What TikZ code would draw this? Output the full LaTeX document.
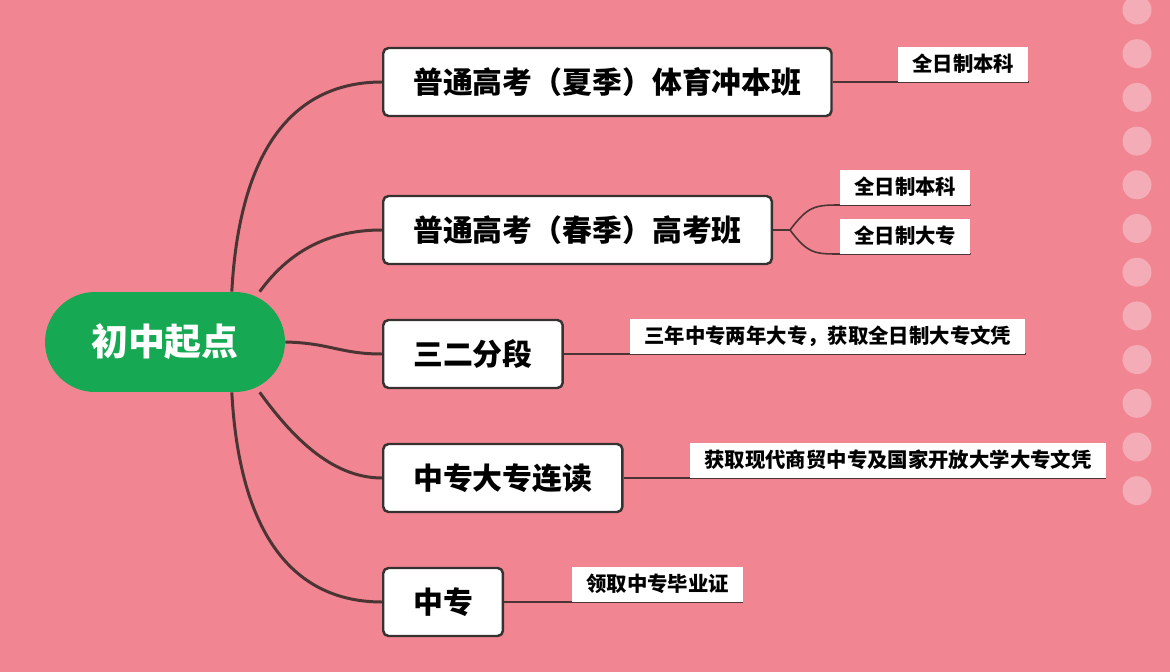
\documentclass[tikz,border=0pt]{standalone}
\usepackage{fontspec}
\setmainfont{Noto Sans CJK SC}
\usetikzlibrary{backgrounds}

\definecolor{bgpink}{RGB}{241,133,145}
\definecolor{dotpink}{RGB}{244,172,182}
\definecolor{rootgreen}{RGB}{22,168,82}
\definecolor{linebrown}{RGB}{75,52,52}
\definecolor{boxedge}{RGB}{55,50,50}

\tikzset{
  rootbox/.style={fill=rootgreen, text=white, rounded corners=1cm, minimum width=4.8cm, minimum height=2cm, font=\fontsize{21}{24}\selectfont\bfseries},
  mainbox/.style={draw=boxedge, line width=1.4pt, fill=white, rounded corners=3pt, anchor=west, minimum height=1.36cm, inner xsep=0.6cm, font=\fontsize{17}{20}\selectfont\bfseries},
  leafbox/.style={fill=white, anchor=south west, minimum height=0.7cm, inner xsep=0.28cm, font=\fontsize{11.6}{13}\selectfont\bfseries},
  branch/.style={draw=linebrown, line width=1.7pt},
  underline/.style={draw=linebrown, line width=0.9pt}
}

\begin{document}
\begin{tikzpicture}[line cap=round,line join=round,x=0.02cm,y=-0.02cm]
  \useasboundingbox (0,0) rectangle (1170,672);
  \begin{pgfonlayer}{background}
    \fill[bgpink] (0,0) rectangle (1170,672);
    \foreach \i in {0,...,11}
      \fill[dotpink] (1137,{10+43.7*\i}) circle (0.29cm);
  \end{pgfonlayer}
  % root and main boxes
  \node[rootbox] (root) at (165,342) {初中起点};
  \node[mainbox] (m1) at (382,82) {普通高考（夏季）体育冲本班};
  \node[mainbox] (m2) at (382,230) {普通高考（春季）高考班};
  \node[mainbox] (m3) at (382,354) {三二分段};
  \node[mainbox] (m4) at (382,478) {中专大专连读};
  \node[mainbox] (m5) at (382,602) {中专};
  % leaves
  \node[leafbox] (l1) at (898,82) {全日制本科};
  \node[leafbox] (l2a) at (840,205) {全日制本科};
  \node[leafbox] (l2b) at (840,254) {全日制大专};
  \node[leafbox] (l3) at (630,354) {三年中专两年大专，获取全日制大专文凭};
  \node[leafbox] (l4) at (690,478) {获取现代商贸中专及国家开放大学大专文凭};
  \node[leafbox] (l5) at (572,602) {领取中专毕业证};
  \coordinate (j2) at (790,230);
  \begin{pgfonlayer}{background}
    \draw[branch] (root.37) .. controls (240,140) and (300,82) .. (m1.west);
    \draw[branch] (root.28) .. controls (290,250) and (330,230) .. (m2.west);
    \draw[branch] (root.east) .. controls (330,343) and (340,354) .. (m3.west);
    \draw[branch] (root.-28) .. controls (290,434) and (330,478) .. (m4.west);
    \draw[branch] (root.-37) .. controls (240,544) and (300,602) .. (m5.west);
    \draw[underline] (m1.east) -- (l1.south east);
    \draw[underline] (m2.east) -- (j2);
    \draw[underline] (j2) .. controls (808,206) and (815,205) .. (l2a.south west) -- (l2a.south east);
    \draw[underline] (j2) .. controls (808,254) and (815,254) .. (l2b.south west) -- (l2b.south east);
    \draw[underline] (m3.east) -- (l3.south east);
    \draw[underline] (m4.east) -- (l4.south east);
    \draw[underline] (m5.east) -- (l5.south east);
  \end{pgfonlayer}
\end{tikzpicture}
\end{document}
